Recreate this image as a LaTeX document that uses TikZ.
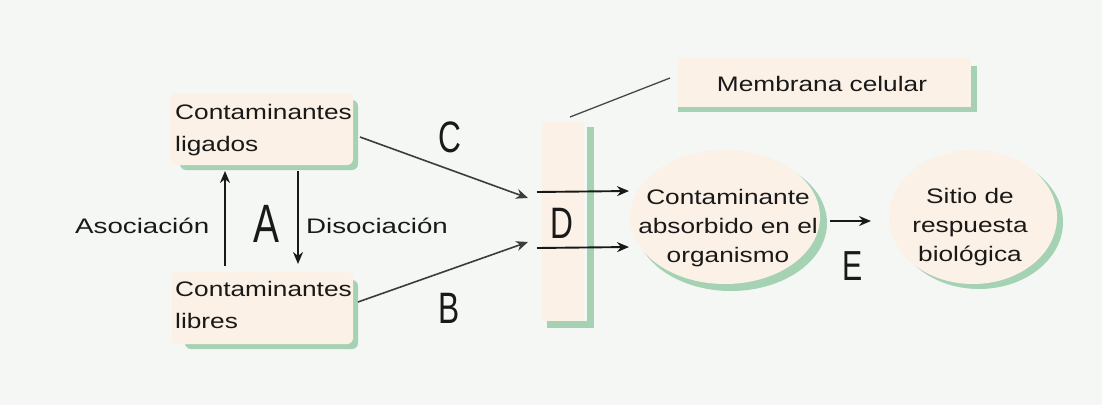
\documentclass[tikz,border=0pt]{standalone}
\usepackage{fontspec}
\usetikzlibrary{arrows.meta,shapes.geometric}
\newfontfamily\txtfont[FakeStretch=1.25]{Liberation Sans}
\newfontfamily\wideTxt[FakeStretch=1.32]{Liberation Sans}
\newfontfamily\letterfont[FakeStretch=0.72]{Liberation Sans}
\definecolor{bgc}{RGB}{245,247,245}
\definecolor{peach}{RGB}{251,241,230}
\definecolor{shgreen}{RGB}{166,210,180}
\definecolor{ink}{RGB}{25,25,25}
\tikzset{
  lbl/.style={inner sep=0pt, text=ink, font=\txtfont\fontsize{21}{32}\selectfont},
  ellbl/.style={inner sep=0pt, text=ink, align=center, font=\txtfont\fontsize{21}{29}\selectfont},
  sidelbl/.style={inner sep=0pt, text=ink, font=\wideTxt\fontsize{21}{29}\selectfont},
  letter/.style={inner sep=0pt, text=ink, font=\letterfont\fontsize{44}{44}\selectfont},
  arr/.style={draw=ink, line width=1.9pt, -{Stealth[length=12pt,width=10pt]}},
  pfill/.style={fill=peach, rounded corners=6pt},
  gfill/.style={fill=shgreen, rounded corners=6pt},
  ellshape/.style={ellipse, inner sep=0pt},
}
\begin{document}
\begin{tikzpicture}[x=1pt,y=-1pt]
\fill[bgc] (0,0) rectangle (1102,405);
\useasboundingbox (0,0) rectangle (1102,405);

% boxes: Contaminantes ligados / libres
\fill[gfill] (180,100) rectangle (358,170);
\fill[pfill] (170,93) rectangle (353,165);
\fill[gfill] (185,280) rectangle (358,349);
\fill[pfill] (172,272) rectangle (353,344);

\node[lbl, align=left, anchor=west] (ligados) at (175,130) {Contaminantes\\ligados};
\node[lbl, align=left, anchor=west] (libres) at (175,305) {Contaminantes\\libres};

% Membrana celular box
\fill[shgreen] (678,66) rectangle (977,112);
\fill[peach] (678,58) rectangle (971,107);
\node[lbl, anchor=base] (memlbl) at (822,91) {Membrana celular};

% membrane bracket
\fill[peach] (542,122) rectangle (584,322);
\draw[shgreen, line width=6.5pt] (590.5,127) -- (590.5,324.5) -- (547,324.5);
\coordinate (memtop) at (570,117);
\coordinate (memend) at (670,78);
\draw[ink!80, line width=1.3pt] (memtop) -- (memend);

% ellipses
\node[ellshape, fill=shgreen, minimum width=192pt, minimum height=136pt] (absG) at (731,223) {};
\node[ellshape, fill=peach, minimum width=190pt, minimum height=134pt] (abs) at (725,217) {};
\node[ellshape, fill=shgreen, minimum width=168pt, minimum height=134pt] (sitG) at (979,222) {};
\node[ellshape, fill=peach, minimum width=168pt, minimum height=134pt] (sit) at (973,217) {};
\node[ellbl] (abstxt) at (728,228) {Contaminante\\absorbido en el\\organismo};
\node[ellbl] (sittxt) at (970,227) {Sitio de\\respuesta\\biológica};

% labels
\node[sidelbl, anchor=base west] (asoc) at (75,233) {Asociación};
\node[sidelbl, anchor=base west] (disoc) at (306,233) {Disociación};
\node[letter, anchor=base, font=\letterfont\fontsize{54}{54}\selectfont] (A) at (266,242) {A};
\node[letter, anchor=base] (C) at (450,152) {C};
\node[letter, anchor=base] (B) at (449,323) {B};
\node[letter, anchor=base] (D) at (562,238) {D};
\node[letter, anchor=base, font=\letterfont\fontsize{42}{42}\selectfont] (E) at (853,280) {E};

% arrows
\coordinate (upS) at (225,266);
\coordinate (upE) at (225,171);
\coordinate (dnS) at (298,171);
\coordinate (dnE) at (298,264);
\draw[arr] (upS) -- (upE);
\draw[arr] (dnS) -- (dnE);
\coordinate (cS) at (360,137);
\coordinate (cE) at (528,198);
\coordinate (bS) at (358,302);
\coordinate (bE) at (528,242);
\draw[arr, line width=1.6pt, draw=ink!85] (cS) -- (cE);
\draw[arr, line width=1.6pt, draw=ink!85] (bS) -- (bE);
\coordinate (t1S) at (537,192);
\coordinate (t1E) at (629,191);
\coordinate (t2S) at (537,248);
\coordinate (t2E) at (629,247);
\draw[arr] (t1S) -- (t1E);
\draw[arr] (t2S) -- (t2E);
\coordinate (eS) at (830,221);
\coordinate (eE) at (871,221);
\draw[arr] (eS) -- (eE);
\end{tikzpicture}
\end{document}
